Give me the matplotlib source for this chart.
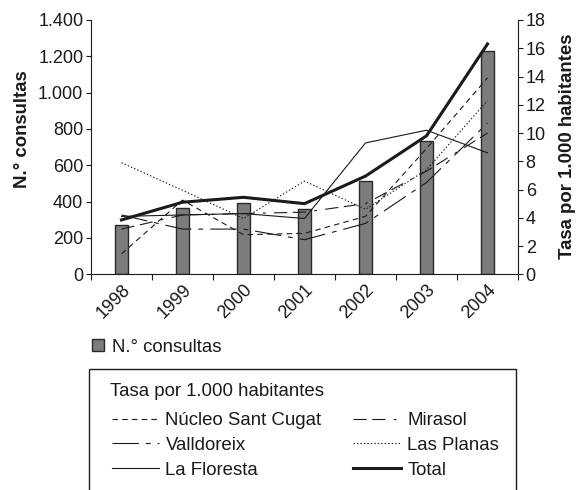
import numpy as np
import matplotlib.pyplot as plt
from matplotlib.patches import Rectangle
from matplotlib.ticker import FuncFormatter

plt.rcParams['font.family'] = ['Liberation Sans', 'DejaVu Sans']
plt.rcParams['lines.scale_dashes'] = False

# datos
years = ['1998', '1999', '2000', '2001', '2002', '2003', '2004']
consultas = [270, 364, 394, 359, 511, 736, 1232]

nucleo     = [1.45, 5.25, 2.8, 2.9, 4.1, 8.9, 13.9]
mirasol    = [3.2, 4.2, 4.3, 4.4, 5.0, 7.3, 10.0]
valldoreix = [4.2, 3.2, 3.2, 2.45, 3.6, 6.5, 10.7]
planas     = [7.9, 5.95, 3.95, 6.6, 4.6, 7.4, 12.3]
floresta   = [4.1, 4.2, 4.3, 3.95, 9.3, 10.2, 8.6]
total      = [3.85, 5.1, 5.45, 5.0, 6.95, 9.8, 16.3]

ink = '#1a1a1a'
W, H = 586, 490

fig = plt.figure(figsize=(W / 100, H / 100), dpi=100)
ax = fig.add_axes([91 / W, 1 - 274.3 / H, 427 / W, 254.3 / H])

x = np.arange(len(years))
bars = ax.bar(x, consultas, width=0.2, color='#7c7c7c', edgecolor='#2a2a2a', linewidth=1)

ax.set_xlim(-0.5, 6.5)
ax.set_ylim(0, 1400)
ax.set_yticks(np.arange(0, 1401, 200))
ax.yaxis.set_major_formatter(FuncFormatter(lambda v, p: f'{int(v):,}'.replace(',', '.')))
ax.set_xticks(x)
ax.set_xticklabels(years, rotation=45, ha='right', va='top', rotation_mode='anchor')
ax.set_xticks(np.arange(-0.5, 7, 1), minor=True)
ax.tick_params(axis='x', which='major', length=0, pad=5, labelsize=13, labelcolor=ink)
ax.tick_params(axis='x', which='minor', length=4, width=0.8, color=ink)
ax.tick_params(axis='y', length=3.5, width=0.8, color=ink, labelsize=13, labelcolor=ink, pad=2)
ax.spines['top'].set_visible(False)
ax.spines['right'].set_visible(False)
for s in ['left', 'bottom']:
    ax.spines[s].set_linewidth(0.8)
    ax.spines[s].set_color(ink)
ax.set_ylabel('N.° consultas', fontsize=13.4, fontweight='bold', color=ink)
ax.yaxis.set_label_coords(-0.141, 0.571)

ax2 = ax.twinx()
ax2.set_ylim(0, 18)
ax2.set_yticks(np.arange(0, 19, 2))
ax2.tick_params(axis='y', length=3.5, width=0.8, color=ink, labelsize=13, labelcolor=ink, pad=2)
for s in ['top', 'left', 'bottom']:
    ax2.spines[s].set_visible(False)
ax2.spines['right'].set_linewidth(0.8)
ax2.spines['right'].set_color(ink)
ax2.set_ylabel('Tasa por 1.000 habitantes', fontsize=13.4, fontweight='bold', color=ink)
ax2.yaxis.set_label_coords(1.095, 0.502)

l1, = ax2.plot(x, nucleo, color=ink, lw=0.8, ls=(0, (4, 3)))
l2, = ax2.plot(x, valldoreix, color=ink, lw=0.8, ls=(0, (19, 5, 3.5, 5)))
l3, = ax2.plot(x, floresta, color=ink, lw=0.8)
l4, = ax2.plot(x, mirasol, color=ink, lw=0.8, ls=(0, (9.5, 4, 9.5, 6, 2, 6)))
l5, = ax2.plot(x, planas, color=ink, lw=0.8, ls=(0, (1, 1.5)))
l6, = ax2.plot(x, total, color=ink, lw=2.2)

fig.legend([bars], ['N.° consultas'], loc='upper left',
           bbox_to_anchor=(91.7 / W, 1 - 338.5 / H), frameon=False, borderpad=0,
           borderaxespad=0, handlelength=0.67, handleheight=0.67, handletextpad=0.4,
           fontsize=13.4, labelcolor=ink)

fig.text(110 / W, 1 - 391.5 / H, 'Tasa por 1.000 habitantes', fontsize=13.4, color=ink,
         ha='left', va='center')
fig.legend([l1, l2, l3, l4, l5, l6],
           ['Núcleo Sant Cugat', 'Valldoreix', 'La Floresta', 'Mirasol', 'Las Planas', 'Total'],
           loc='upper left', bbox_to_anchor=(111.5 / W, 1 - 412 / H), ncol=2,
           frameon=False, borderpad=0, borderaxespad=0, fontsize=13.4, labelcolor=ink,
           handlelength=2.55, handletextpad=0.35, columnspacing=1.7, labelspacing=0.42)

fig.add_artist(Rectangle((89.3 / W, -0.05), 426.7 / W, 1 - 369.3 / H + 0.05,
                         transform=fig.transFigure, fill=False, lw=1, edgecolor=ink,
                         clip_on=False))

fig.savefig('out.png', dpi=100)
